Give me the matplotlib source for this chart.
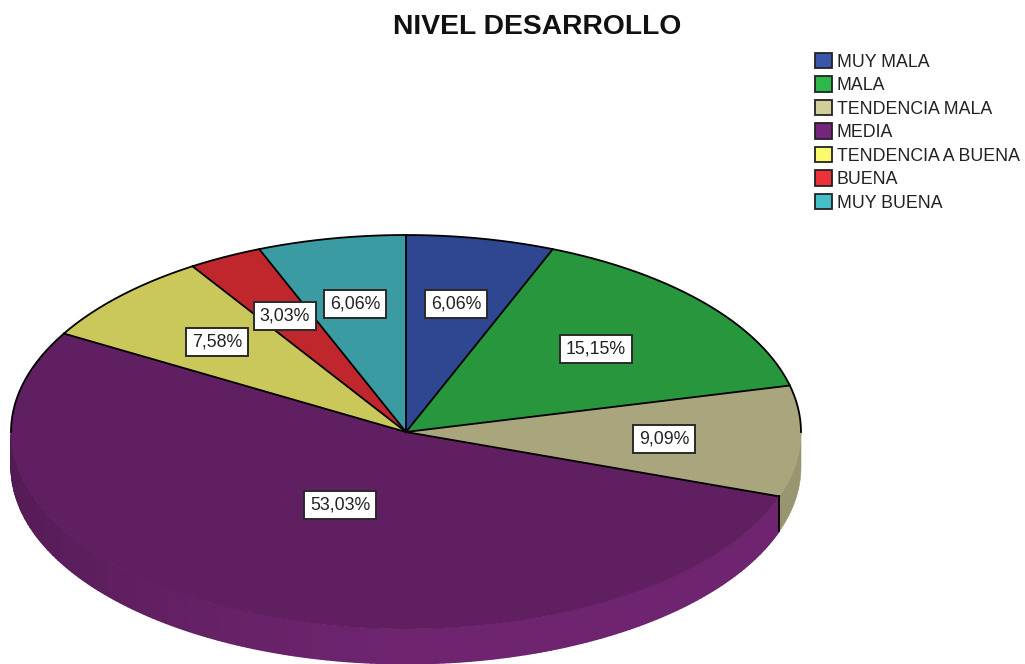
import numpy as np
import matplotlib
matplotlib.use('Agg')
import matplotlib.pyplot as plt
import matplotlib.patches as mpatches
import matplotlib.colors as mcolors

plt.rcParams['font.family'] = ['Liberation Sans', 'DejaVu Sans']

title = 'NIVEL DESARROLLO'
categories = ['MUY MALA', 'MALA', 'TENDENCIA MALA', 'MEDIA',
              'TENDENCIA A BUENA', 'BUENA', 'MUY BUENA']
values = [6.06, 15.15, 9.09, 53.03, 7.58, 3.03, 6.06]
labels = ['6,06%', '15,15%', '9,09%', '53,03%', '7,58%', '3,03%', '6,06%']

top_colors = ['#2f4690', '#27963c', '#a9a57c', '#5f1f60', '#cbc85b', '#c0272d', '#3a9ca2']
legend_colors = ['#3a56ab', '#2db84b', '#d3cf9b', '#75267a', '#fbf96c', '#ee3039', '#43bfc7']

W, H = 1025, 664
CX, CY, RX, RY = 406, 432, 395, 197
DEPTH = 35 / RY

# label box centres in pixels
label_px = [(456, 304), (596, 349), (664, 439), (340, 505), (217, 342), (285, 316), (355, 304)]

fig = plt.figure(figsize=(W / 100, H / 100), dpi=100)
ax = fig.add_axes([0, 0, 1, 1])

wedges, _ = ax.pie(values, colors=top_colors, startangle=90, counterclock=False,
                   radius=1, wedgeprops=dict(edgecolor='none', linewidth=0, zorder=3))
ax.set_aspect('auto')
ax.set_xlim(-CX / RX, (W - CX) / RX)
ax.set_ylim((CY - H) / RY, CY / RY)
ax.axis('off')

bounds = 90 - np.cumsum([0] + values) * 3.6

# MEDIA wall, from the left edge round to its cut, lighter towards the front
deg = np.linspace(180, bounds[3] + 360, 200)
t = np.radians(deg)
wall_x = np.vstack([np.cos(t), np.cos(t)])
wall_y = np.vstack([np.sin(t), np.sin(t) - DEPTH])
shade = np.interp(deg, [180, 270, 360], [0.85, 1.17, 1.15])
base = np.array(mcolors.to_rgb(top_colors[3]))
wall_cmap = mcolors.LinearSegmentedColormap.from_list('wall', [base * 0.85, base * 1.17])
ax.pcolormesh(wall_x, wall_y, np.vstack([shade, shade]), shading='gouraud',
              cmap=wall_cmap, vmin=0.85, vmax=1.17, zorder=2)

# tan wall, from the cut up to the right edge
t = np.radians(np.linspace(bounds[3], 0, 30))
c = np.array(mcolors.to_rgb(top_colors[2])) * 0.9
ax.fill(np.r_[np.cos(t), np.cos(t)[::-1]], np.r_[np.sin(t), np.sin(t)[::-1] - DEPTH],
        color=c, lw=0.4, zorder=2)

# black outlines: spokes, back rim and the cut at the end of MEDIA
for b in bounds[:-1]:
    r = np.radians(b)
    ax.plot([0, np.cos(r)], [0, np.sin(r)], color='black', lw=1.3, zorder=4)
t = np.radians(np.linspace(0, 180, 200))
ax.plot(np.cos(t), np.sin(t), color='black', lw=1.3, zorder=4)
r = np.radians(bounds[3])
ax.plot([np.cos(r), np.cos(r)], [np.sin(r), np.sin(r) - DEPTH], color='black', lw=1.3, zorder=4)

for txt, (px, py) in zip(labels, label_px):
    ax.text(px / W, 1 - py / H, txt, transform=ax.transAxes, ha='center', va='center',
            fontsize=12.8, color='#222222', zorder=6,
            bbox=dict(boxstyle='square,pad=0.32', facecolor='white', edgecolor='#2a2a2a', linewidth=1.4))

fig.text(537 / W, 1 - 27 / H, title, ha='center', va='center', fontsize=20.3,
         fontweight='bold', color='#111111')

handles = [mpatches.Patch(facecolor=c, edgecolor='#222222', linewidth=1.3, label=n)
           for c, n in zip(legend_colors, categories)]
ax.legend(handles=handles, loc='upper left', bbox_to_anchor=(799 / W, 1 - 37 / H),
          bbox_transform=ax.transAxes, frameon=False, fontsize=12.8,
          handlelength=0.95, handleheight=0.95, handletextpad=0.28, labelspacing=0.32,
          labelcolor='#222222')

fig.savefig('out.png', dpi=100, facecolor='white')
